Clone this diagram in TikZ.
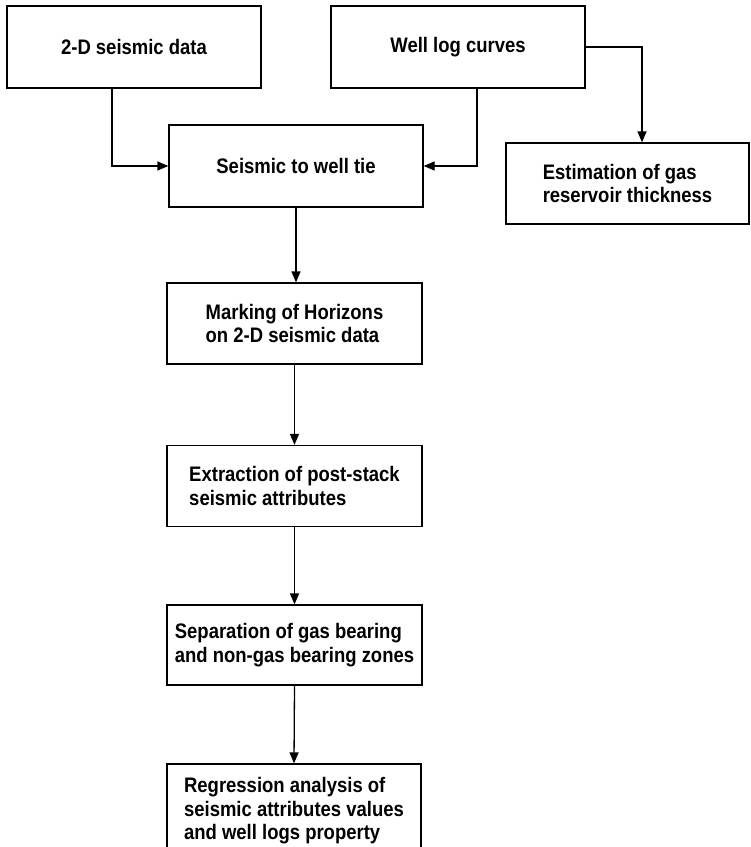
\documentclass[tikz,border=0pt]{standalone}
\usepackage{fontspec}
\setmainfont{Liberation Sans}[FakeStretch=0.88]
\usetikzlibrary{arrows.meta}
\begin{document}
\begin{tikzpicture}[x=1pt,y=-1pt,
  box/.style={draw, line width=1.3pt, minimum width=254pt, minimum height=82pt,
    inner sep=0pt, align=left, font=\fontsize{21}{23.5}\selectfont\bfseries},
  arr/.style={line width=1.3pt, -{Triangle[length=11pt,width=9pt]}}]
\useasboundingbox (0,0) rectangle (751,847);
\clip (0,0) rectangle (751,847);
\node[box] (seis) at (134,47) {2-D seismic data};
\node[box] (well) at (458,47) {Well log curves};
\node[box] (tie) at (296,166) {Seismic to well tie};
\node[box, minimum width=243pt, minimum height=81pt] (est) at (627.5,183.5) {Estimation of gas\\reservoir thickness};
\node[box, minimum width=255pt, minimum height=81pt] (mark) at (294.5,323.5) {Marking of Horizons\\on 2-D seismic data};
\node[box, minimum width=255pt, minimum height=81pt] (ext) at (294.5,486) {Extraction of post-stack\\seismic attributes};
\node[box, minimum width=255pt, minimum height=80pt] (sep) at (294.5,645) {Separation of gas bearing\\and non-gas bearing zones};
\node[box, minimum width=254pt, minimum height=94pt] (reg) at (294,811) {Regression analysis of\\seismic attributes values\\and well logs property};
\draw[arr] ([xshift=-22pt]seis.south) |- (tie.west);
\draw[arr] ([xshift=19pt]well.south) |- (tie.east);
\draw[arr] (well.east) -| ([xshift=14.5pt]est.north);
\draw[arr] (tie.south) -- (tie.south |- mark.north);
\draw[arr] (mark.south) -- (ext.north);
\draw[arr] (ext.south) -- (sep.north);
\draw[arr] (sep.south) -- (reg.north);
\end{tikzpicture}
\end{document}
